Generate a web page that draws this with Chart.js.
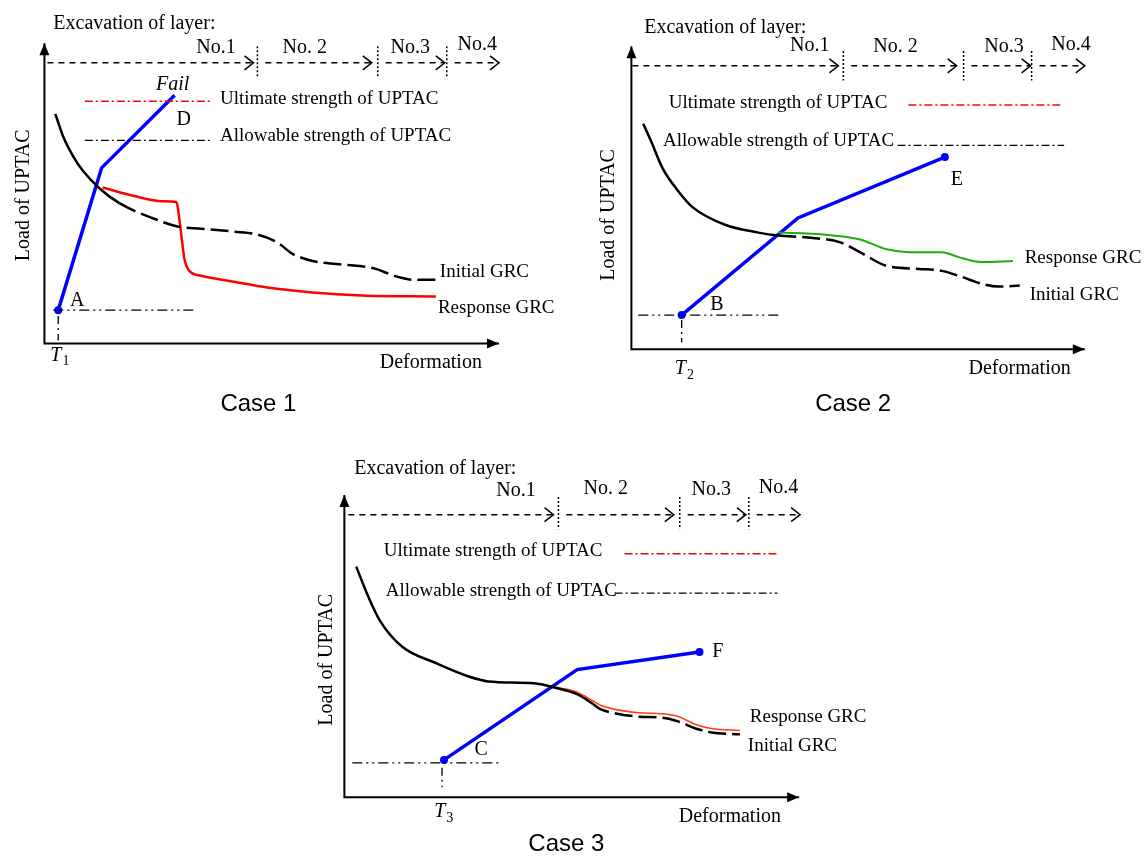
<!DOCTYPE html>
<html>
<head>
<meta charset="utf-8">
<script src="https://cdn.jsdelivr.net/npm/chart.js@4/dist/chart.umd.min.js"></script>
<style>
  body { margin: 0; background: #fff; width: 1146px; height: 861px; overflow: hidden; position: relative; }
  canvas { position: absolute; }
</style>
</head>
<body>
<canvas id="c1" width="575" height="425" style="left:0;top:0"></canvas>
<canvas id="c2" width="561" height="425" style="left:585px;top:0"></canvas>
<canvas id="c3" width="590" height="421" style="left:295px;top:440px"></canvas>
<script>
// units: deformation to the right, load upwards, origin at the axes corner

// ---- Case 1 ----
const initial1 = [[11,234],[19,211],[29,191],[39,176],[56,158],[76,143],[109,128],[136,119],[159,117],[192,114],
  [216,111],[236,103],[252,91],[259,88],[272,84],[296,81],[319,79],[336,76],[352,70],[362,67],[372,65],[399,65]];
const response1 = [[59,159],[92,150],[119,145],[134,144],[136,133],[139,109],[142,86],[147,74],[159,69],[192,63],
  [226,57],[272,52],[322,49],[397,48]];
const support1 = [[14,34],[58,179],[132,253]];
const ultimate1 = [[41,247],[170,247]];
const allowable1 = [[41,207],[170,207]];
const install1 = [[9,34],[152,34]];
const installDrop1 = [[14,28],[14,3]];
const stageTips1 = [212,332,406,461];
const stageCuts1 = [216,338,408];
const stageNames = ['No.1','No. 2','No.3','No.4'];

// ---- Case 2 ----
const initial2 = [[12,230],[20,212],[32,184],[47,162],[62,145],[95,127],[129,119],[149,116],[179,114],[212,109],
  [232,99],[239,95],[259,85],[292,82],[315,80],[332,75],[355,67],[372,64],[394,65]];
const response2 = [[149,119],[195,117],[232,112],[259,102],[282,99],[315,99],[332,94],[355,89],[387,90]];
const support2 = [[51,35],[169,134],[318,196]];
const ultimate2 = [[281,249],[435,249]];
const allowable2 = [[270,208],[439,208]];
const install2 = [[7,35],[152,35]];
const installDrop2 = [[51,30],[51,7]];
const stageTips2 = [210,330,405,460];
const stageCuts2 = [215,337,406];

// ---- Case 3 ----
const initial3 = [[12,235],[24,205],[36,180],[59,153],[92,137],[126,123],[146,118],[192,116],[212,112],[236,105],
  [252,95],[259,90],[272,86],[299,82],[322,81],[339,77],[356,70],[372,66],[401,64]];
const response3 = [[214,112],[236,107],[252,98],[259,94],[272,90],[299,86],[322,85],[339,82],[356,74],[372,70],[401,68]];
const support3 = [[101,38],[236,130],[360,148]];
const ultimate3 = [[284,248],[438,248]];
const allowable3 = [[274,208],[439,208]];
const install3 = [[8,35],[156,35]];
const installDrop3 = [[99,30],[99,10]];
const stageTips3 = [212,334,407,462];
const stageCuts3 = [217,340,410];

const SERIF = '"Liberation Serif", "Times New Roman", serif';
const SANS = '"Liberation Sans", Arial, sans-serif';

const pts = a => a.map(([x, y]) => ({ x, y }));

function straight(data, color, width, dash, radius) {
  return { data: pts(data), borderColor: color, backgroundColor: color, borderWidth: width,
    borderDash: dash || [], tension: 0, pointRadius: radius || 0, pointBorderWidth: 0, clip: false };
}

function curve(data, color, width, dashFrom, dash) {
  return { data: pts(data), borderColor: color, borderWidth: width, pointRadius: 0, clip: false,
    cubicInterpolationMode: 'monotone',
    segment: dashFrom == null ? undefined : { borderDash: c => c.p0.parsed.x >= dashFrom ? dash : undefined } };
}

function arrowHead(ctx, x, y, dir, filled) {
  ctx.save();
  ctx.translate(x, y);
  ctx.rotate(dir);
  ctx.setLineDash([]);
  ctx.beginPath();
  if (filled) {
    ctx.moveTo(0, 0); ctx.lineTo(-12, -5); ctx.lineTo(-12, 5); ctx.closePath(); ctx.fill();
  } else {
    ctx.moveTo(-9, -7); ctx.lineTo(0, 0); ctx.lineTo(-9, 7); ctx.stroke();
  }
  ctx.restore();
}

function makeSketch(spec) {
  return {
    id: 'sketch',
    afterDatasetsDraw(chart) {
      const { ctx, scales: { x, y } } = chart;
      const px = v => x.getPixelForValue(v), py = v => y.getPixelForValue(v);
      ctx.save();
      ctx.strokeStyle = '#000'; ctx.fillStyle = '#000';
      // axes
      ctx.lineWidth = 2; ctx.setLineDash([]);
      ctx.beginPath();
      ctx.moveTo(px(0), py(spec.axisTop)); ctx.lineTo(px(0), py(0)); ctx.lineTo(px(spec.axisRight), py(0));
      ctx.stroke();
      arrowHead(ctx, px(0), py(spec.axisTop), -Math.PI / 2, true);
      arrowHead(ctx, px(spec.axisRight), py(0), 0, true);
      // excavation stages
      ctx.lineWidth = 1.5;
      spec.tips.forEach((tip, i) => {
        const from = i === 0 ? spec.stageStart : spec.cuts[i - 1] + 8;
        ctx.setLineDash([6, 5]);
        ctx.beginPath(); ctx.moveTo(px(from), py(spec.stageY)); ctx.lineTo(px(tip), py(spec.stageY)); ctx.stroke();
        arrowHead(ctx, px(tip), py(spec.stageY), 0, false);
      });
      ctx.setLineDash([2, 2]);
      spec.cuts.forEach(c => {
        ctx.beginPath(); ctx.moveTo(px(c), py(spec.cutTop)); ctx.lineTo(px(c), py(spec.cutBottom)); ctx.stroke();
      });
      ctx.setLineDash([]);
      // texts
      spec.texts.forEach(t => {
        ctx.save();
        ctx.font = t.font || ('20px ' + SERIF);
        ctx.textAlign = t.align || 'left';
        ctx.textBaseline = 'middle';
        ctx.translate(px(t.x), py(t.y));
        if (t.rot) ctx.rotate(t.rot);
        ctx.fillText(t.t, 0, 0);
        if (t.sub) {
          const w = ctx.measureText(t.t).width;
          ctx.font = '14px ' + SERIF;
          ctx.textAlign = 'left';
          ctx.fillText(t.sub, w + 1, 6);
        }
        ctx.restore();
      });
      ctx.restore();
    }
  };
}

function stageTexts(names, xs, ys) {
  return names.map((n, i) => ({ t: n, x: xs[i], y: ys[i], align: 'center' }));
}

function draw(id, range, datasets, spec) {
  new Chart(document.getElementById(id), {
    type: 'line',
    data: { datasets },
    options: {
      responsive: false, animation: false,
      layout: { padding: 0 },
      scales: {
        x: { type: 'linear', display: false, min: range[0], max: range[1] },
        y: { type: 'linear', display: false, min: range[2], max: range[3] }
      },
      plugins: { legend: { display: false }, tooltip: { enabled: false } }
    },
    plugins: [makeSketch(spec)]
  });
}

const RED = '#ff0000', BLUE = '#0000ff', BLACK = '#000000';
const strengthDash = [8, 3, 2, 3];
const installDash = [10, 4, 2, 4, 2, 4];
const grcDash = [18, 6];

draw('c1', [-41, 534, -79, 346], [
  curve(initial1, BLACK, 2.5, 58, grcDash),
  curve(response1, RED, 2.5),
  straight(ultimate1, RED, 1.5, strengthDash),
  straight(allowable1, BLACK, 1.3, strengthDash),
  straight(install1, BLACK, 1.3, installDash),
  straight(installDrop1, BLACK, 1.3, [8, 4, 2, 4]),
  straight(support1, BLUE, 3.5, null, [4, 0, 0])
], {
  axisTop: 306, axisRight: 461, stageStart: 3, stageY: 286, tips: stageTips1, cuts: stageCuts1, cutTop: 303, cutBottom: 271,
  texts: [
    { t: 'Excavation of layer:', x: 9, y: 326 },
    ...stageTexts(stageNames, [174, 264, 371, 439], [301, 301, 301, 304]),
    { t: 'Fail', x: 130, y: 264, align: 'center', font: 'italic 20px ' + SERIF },
    { t: 'Ultimate strength of UPTAC', x: 178, y: 249, font: '19px ' + SERIF },
    { t: 'D', x: 134, y: 228 },
    { t: 'Allowable strength of UPTAC', x: 178, y: 211, font: '19px ' + SERIF },
    { t: 'Initial GRC', x: 401, y: 73, font: '19px ' + SERIF },
    { t: 'Response GRC', x: 399, y: 36, font: '19px ' + SERIF },
    { t: 'A', x: 26, y: 44 },
    { t: 'T', sub: '1', x: 6, y: -12, font: 'italic 20px ' + SERIF },
    { t: 'Deformation', x: 340, y: -20 },
    { t: 'Case 1', x: 217, y: -62, align: 'center', font: '24px ' + SANS },
    { t: 'Load of UPTAC', x: -21, y: 151, align: 'center', rot: -Math.PI / 2 }
  ]
});

draw('c2', [-43, 518, -73, 352], [
  curve(initial2, BLACK, 2.5, 149, grcDash),
  curve(response2, '#22aa11', 2),
  straight(ultimate2, RED, 1.5, strengthDash),
  straight(allowable2, BLACK, 1.3, strengthDash),
  straight(install2, BLACK, 1.3, installDash),
  straight(installDrop2, BLACK, 1.3, [8, 4, 2, 4]),
  straight(support2, BLUE, 3.5, null, [4, 0, 4])
], {
  axisTop: 309, axisRight: 460, stageStart: 1, stageY: 289, tips: stageTips2, cuts: stageCuts2, cutTop: 304, cutBottom: 274,
  texts: [
    { t: 'Excavation of layer:', x: 13, y: 328 },
    ...stageTexts(stageNames, [181, 268, 378, 446], [309, 308, 308, 310]),
    { t: 'Ultimate strength of UPTAC', x: 38, y: 251, font: '19px ' + SERIF },
    { t: 'Allowable strength of UPTAC', x: 32, y: 212, font: '19px ' + SERIF },
    { t: 'E', x: 324, y: 173 },
    { t: 'B', x: 80, y: 45 },
    { t: 'Response GRC', x: 399, y: 93, font: '19px ' + SERIF },
    { t: 'Initial GRC', x: 404, y: 55, font: '19px ' + SERIF },
    { t: 'T', sub: '2', x: 44, y: -20, font: 'italic 20px ' + SERIF },
    { t: 'Deformation', x: 342, y: -20 },
    { t: 'Case 2', x: 225, y: -56, align: 'center', font: '24px ' + SANS },
    { t: 'Load of UPTAC', x: -23, y: 137, align: 'center', rot: -Math.PI / 2 }
  ]
});

draw('c3', [-46, 544, -61, 360], [
  curve(initial3, BLACK, 2.5, 252, grcDash),
  curve(response3, '#ff4010', 1.6),
  straight(ultimate3, RED, 1.5, strengthDash),
  straight(allowable3, BLACK, 1.3, strengthDash),
  straight(install3, BLACK, 1.3, installDash),
  straight(installDrop3, BLACK, 1.3, [8, 4, 2, 4]),
  straight(support3, BLUE, 3.5, null, [4, 0, 4])
], {
  axisTop: 308, axisRight: 461, stageStart: 4, stageY: 288, tips: stageTips3, cuts: stageCuts3, cutTop: 306, cutBottom: 273,
  texts: [
    { t: 'Excavation of layer:', x: 10, y: 335 },
    ...stageTexts(stageNames, [174, 265, 372, 440], [312, 314, 313, 315]),
    { t: 'Ultimate strength of UPTAC', x: 40, y: 251, font: '19px ' + SERIF },
    { t: 'Allowable strength of UPTAC', x: 42, y: 210, font: '19px ' + SERIF },
    { t: 'F', x: 373, y: 148 },
    { t: 'C', x: 132, y: 48 },
    { t: 'Response GRC', x: 411, y: 82, font: '19px ' + SERIF },
    { t: 'Initial GRC', x: 409, y: 52, font: '19px ' + SERIF },
    { t: 'T', sub: '3', x: 91, y: -15, font: 'italic 20px ' + SERIF },
    { t: 'Deformation', x: 339, y: -20 },
    { t: 'Case 3', x: 225, y: -48, align: 'center', font: '24px ' + SANS },
    { t: 'Load of UPTAC', x: -18, y: 140, align: 'center', rot: -Math.PI / 2 }
  ]
});
</script>
</body>
</html>
